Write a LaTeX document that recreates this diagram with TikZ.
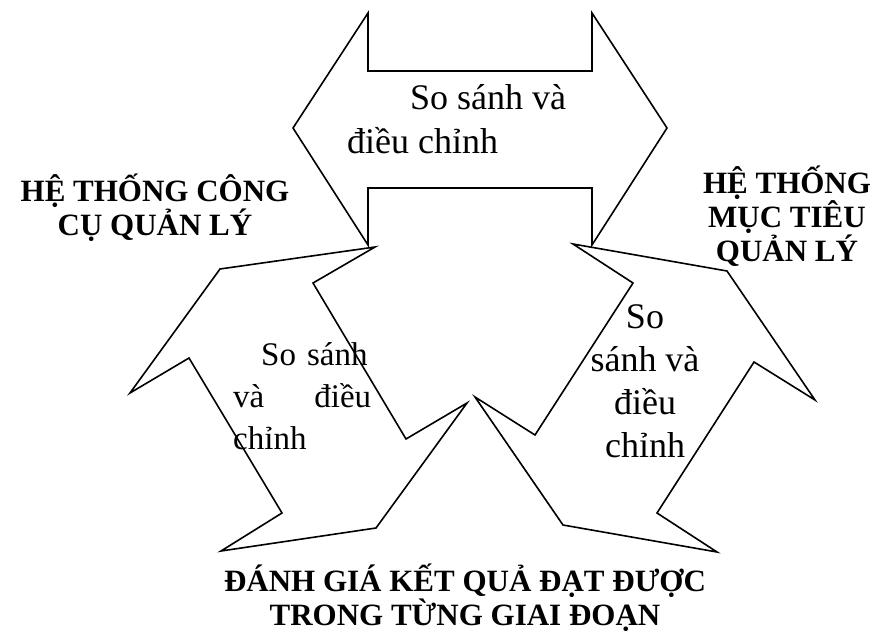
\documentclass[tikz,border=0pt]{standalone}
\usepackage{fontspec}
\setmainfont{Liberation Serif}
\begin{document}
\begin{tikzpicture}[x=1pt,y=-1pt,
  arr/.style={draw,line width=1.6pt,line join=miter},
  lbl/.style={font=\fontsize{31}{32}\selectfont\bfseries,align=center,anchor=base,inner sep=0pt},
  txt/.style={font=\fontsize{36}{43}\selectfont,inner sep=0pt}]
  \useasboundingbox (0,0) rectangle (878,632);
  % three double arrows
  \draw[arr] (293,128)--(368,13)--(368,71)--(592,71)--(592,13)--(667,128)--(592,245)--(592,188)--(368,188)--(368,245)--cycle;
  \draw[arr] (375,247)--(220,269)--(130,393)--(189,358)--(282,513)--(221,551)--(376,528)--(467,403)--(406,439)--(313,283)--cycle;
  \draw[arr] (573,244)--(727,271)--(815,400)--(754,362)--(657,513)--(717,552)--(563,525)--(475,397)--(535,435)--(633,283)--cycle;
  % texts in the arrows
  \node[txt,font=\fontsize{36}{44}\selectfont,align=left,anchor=base west] (sstop) at (347,153) {\hspace*{63pt}So sánh và\\điều chỉnh};
  \node[txt,font=\fontsize{33}{42}\selectfont,text width=138pt,align=left,anchor=base west] (ssleft) at (233,365) {\hspace*{28pt}So sánh\\và\hfill điều\\chỉnh};
  \node[txt,align=center,anchor=base] (ssright) at (645,457) {So\\sánh và\\điều\\chỉnh};
  % labels
  \node[lbl] (congcu) at (155,235) {HỆ THỐNG CÔNG\\CỤ QUẢN LÝ};
  \node[lbl] (muctieu) at (787,261) {HỆ THỐNG\\MỤC TIÊU\\QUẢN LÝ};
  \node[lbl] (danhgia) at (465,625) {ĐÁNH GIÁ KẾT QUẢ ĐẠT ĐƯỢC\\TRONG TỪNG GIAI ĐOẠN};
\end{tikzpicture}
\end{document}
